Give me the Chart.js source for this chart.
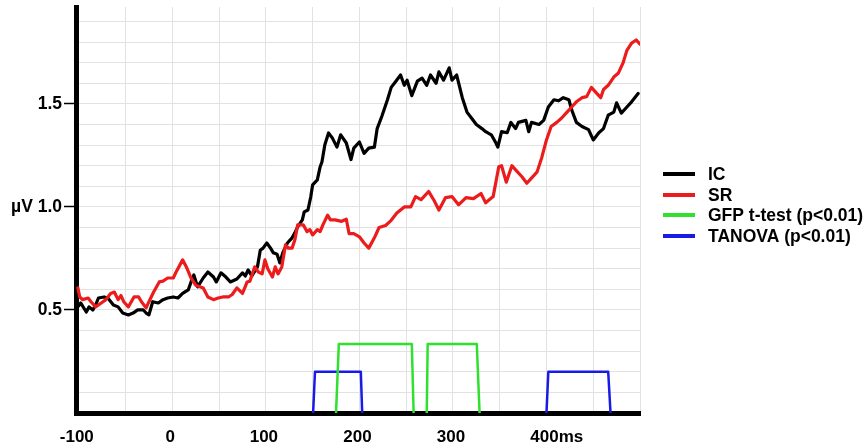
<!DOCTYPE html>
<html><head><meta charset="utf-8">
<script src="https://cdn.jsdelivr.net/npm/chart.js@4.4.1/dist/chart.umd.min.js"></script>
<style>html,body{margin:0;padding:0;background:#fff;}canvas{display:block;}</style>
</head><body>
<canvas id="c" width="867" height="448"></canvas>
<script>
// ---- data ----
const icTime = [-101,-98,-92,-89,-85,-82,-79,-73,-69,-63,
  -58,-53,-47,-42,-37,-31,-28,-25,-21,-15,
  -10,-5,1,6,11,17,20,23,27,33,
  38,44,47,52,56,62,69,75,78,81,
  85,91,94,97,101,105,108,112,115,118,
  123,128,131,134,139,141,145,148,150,155,
  158,160,163,167,171,176,180,186,191,194,
  200,205,210,216,219,224,230,234,239,244,
  248,251,256,262,267,272,276,282,285,290,
  296,299,304,310,315,320,325,331,335,341,
  346,348,352,358,362,367,370,378,381,384,
  392,397,402,408,413,418,424,427,432,438,
  445,450,456,461,466,472,475,480,486,491,
  498];
const icValue = [0.515,0.534,0.49,0.515,0.50,0.524,0.558,0.563,0.558,0.524,
  0.515,0.485,0.476,0.485,0.50,0.50,0.485,0.476,0.54,0.534,
  0.55,0.558,0.563,0.558,0.58,0.597,0.636,0.67,0.612,0.655,
  0.684,0.66,0.636,0.68,0.665,0.636,0.65,0.68,0.665,0.694,
  0.665,0.709,0.79,0.80,0.825,0.80,0.777,0.77,0.728,0.777,
  0.825,0.85,0.874,0.903,0.937,0.976,0.985,1.049,1.107,1.131,
  1.194,1.219,1.30,1.359,1.335,1.29,1.35,1.31,1.23,1.285,
  1.315,1.26,1.285,1.29,1.38,1.44,1.52,1.58,1.61,1.64,
  1.59,1.615,1.54,1.61,1.625,1.59,1.64,1.60,1.655,1.615,
  1.675,1.615,1.64,1.53,1.46,1.43,1.40,1.38,1.365,1.35,
  1.31,1.29,1.365,1.36,1.41,1.38,1.41,1.42,1.365,1.41,
  1.40,1.42,1.485,1.52,1.515,1.53,1.52,1.47,1.41,1.39,
  1.375,1.325,1.36,1.38,1.445,1.46,1.505,1.455,1.485,1.51,
  1.55];

const srTime = [-101,-99,-96,-90,-87,-82,-76,-71,-66,-62,
  -58,-55,-52,-47,-41,-36,-33,-28,-25,-20,
  -14,-10,-5,1,4,7,11,15,20,25,
  33,38,44,49,54,60,64,69,75,80,
  83,88,92,96,99,102,107,110,113,117,
  121,124,128,131,134,140,144,147,150,155,
  158,161,166,169,174,181,186,189,194,200,
  205,210,216,221,228,234,240,248,255,260,
  266,274,280,285,292,299,306,314,322,330,
  335,343,349,352,357,363,368,374,379,384,
  390,395,400,405,411,416,422,427,432,438,
  443,448,454,458,461,466,472,477,482,486,
  491,496,500];
const srValue = [0.607,0.563,0.55,0.558,0.54,0.515,0.534,0.55,0.58,0.587,
  0.55,0.57,0.54,0.515,0.563,0.563,0.54,0.51,0.54,0.587,
  0.636,0.64,0.655,0.655,0.684,0.709,0.743,0.709,0.655,0.62,
  0.607,0.563,0.55,0.558,0.563,0.563,0.575,0.607,0.58,0.636,
  0.64,0.709,0.684,0.675,0.743,0.70,0.66,0.709,0.675,0.709,
  0.816,0.80,0.80,0.84,0.913,0.913,0.88,0.89,0.864,0.89,
  0.88,0.913,0.96,0.937,0.937,0.93,0.94,0.87,0.87,0.855,
  0.825,0.80,0.85,0.90,0.91,0.935,0.97,1.0,1.0,1.05,
  1.035,1.075,1.03,0.985,1.045,1.05,1.01,1.045,1.04,1.065,
  1.02,1.05,1.195,1.2,1.12,1.2,1.175,1.145,1.115,1.14,
  1.17,1.24,1.325,1.39,1.41,1.43,1.46,1.485,1.51,1.53,
  1.535,1.58,1.55,1.53,1.57,1.59,1.63,1.65,1.70,1.76,
  1.795,1.81,1.79];

// significance windows (null separates windows)
const gfpTime  = [175,178,256,258,null,272,273,325.5,328.5];
const gfpValue = [0,0.335,0.335,0,null,0,0.335,0.335,0];
const tanovaTime  = [150.5,152.5,201.5,203,null,400,402,466,468.5];
const tanovaValue = [0,0.2,0.2,0,null,0,0.2,0.2,0];

const seriesNames = ['IC','SR','GFP t-test (p<0.01)','TANOVA (p<0.01)'];
const seriesColors = ['#000000','#ec1c1c','#2fe02f','#1a1ae6'];

const xGridValues = [-100,-50,0,50,100,150,200,250,300,350,400,450,500];
const xLabelValues = [-100,0,100,200,300,400];
const xLabelText = ['-100','0','100','200','300','400'];
const xUnit = 'ms';
const yGridValues = [0,0.1,0.2,0.3,0.4,0.5,0.6,0.7,0.8,0.9,1.0,1.1,1.2,1.3,1.4,1.5,1.6,1.7,1.8,1.9];
const yLabelValues = [0.5,1.0,1.5];
const yLabelText = ['0.5','\u00b5V 1.0','1.5'];

// ---- build ----
const FONT = '"Liberation Sans", Arial, Helvetica, sans-serif';
function pts(t, v){ return t.map((x,i)=>({x: x, y: v[i]})); }

const legendPlugin = {
  id: 'customLegend',
  afterDraw(chart){
    const ctx = chart.ctx;
    ctx.save();
    // unit after last x label
    const xs = chart.scales.x;
    const items = xs.getLabelItems ? xs.getLabelItems() : xs._labelItems;
    if (items) {
      const it = items.find(o => o.label === xLabelText[xLabelText.length-1]);
      if (it) {
        ctx.font = 'bold 17px ' + FONT;
        ctx.fillStyle = '#000';
        const w = ctx.measureText(it.label).width;
        ctx.textAlign = 'left';
        ctx.textBaseline = it.options.textBaseline;
        ctx.fillText(xUnit, it.options.translation[0] + w/2, it.options.translation[1] + it.textOffset);
      }
    }
    // legend
    const rows = [174,195,215,236];
    ctx.font = 'bold 17.5px ' + FONT;
    ctx.textAlign = 'left';
    ctx.textBaseline = 'middle';
    seriesNames.forEach((n,i)=>{
      ctx.strokeStyle = seriesColors[i];
      ctx.lineWidth = 4;
      ctx.beginPath(); ctx.moveTo(663, rows[i]); ctx.lineTo(695, rows[i]); ctx.stroke();
      ctx.fillStyle = '#000';
      ctx.fillText(n, 708, rows[i]+1);
    });
    ctx.restore();
  }
};

new Chart(document.getElementById('c'), {
  type: 'line',
  data: {
    datasets: [
      {label: seriesNames[2], data: pts(gfpTime, gfpValue), borderColor: seriesColors[2], borderWidth: 2.5, spanGaps: false},
      {label: seriesNames[3], data: pts(tanovaTime, tanovaValue), borderColor: seriesColors[3], borderWidth: 2.5, spanGaps: false},
      {label: seriesNames[1], data: pts(srTime, srValue), borderColor: seriesColors[1], borderWidth: 3.2},
      {label: seriesNames[0], data: pts(icTime, icValue), borderColor: seriesColors[0], borderWidth: 3.2}
    ]
  },
  options: {
    responsive: false,
    animation: false,
    devicePixelRatio: 1,
    layout: {padding: {left: 0, top: 7, right: 227, bottom: 0}},
    plugins: {legend: {display: false}, tooltip: {enabled: false}},
    elements: {point: {radius: 0}, line: {tension: 0, borderJoinStyle: 'round', borderCapStyle: 'round'}},
    scales: {
      x: {
        type: 'linear', min: -103, max: 500,
        afterBuildTicks(s){ s.ticks = xGridValues.map(v => ({value: v})); },
        afterFit(s){ s.height = 35; s.paddingLeft = 0; s.paddingRight = 0; },
        grid: {color: '#e2e2e2', lineWidth: 1, drawTicks: false},
        border: {display: true, color: '#000', width: 5},
        ticks: {
          autoSkip: false, maxRotation: 0, minRotation: 0, padding: 14, labelOffset: -2,
          color: '#000', font: {family: FONT, size: 17, weight: 'bold'},
          callback(v){ const i = xLabelValues.indexOf(v); return i >= 0 ? xLabelText[i] : ''; }
        }
      },
      y: {
        type: 'linear', min: 0, max: 1.97,
        afterBuildTicks(s){ s.ticks = yGridValues.map(v => ({value: v})); },
        afterFit(s){ s.width = 76; s.paddingTop = 0; s.paddingBottom = 0; },
        grid: {
          color: '#e2e2e2', lineWidth: 1, tickLength: 12, tickWidth: 1.5,
          tickColor(ctx){ return (ctx.tick && yLabelValues.indexOf(ctx.tick.value) >= 0) ? '#000' : 'rgba(0,0,0,0)'; }
        },
        border: {display: true, color: '#000', width: 5},
        ticks: {
          autoSkip: false, padding: 2,
          color: '#000', font: {family: FONT, size: 17.5, weight: 'bold'},
          callback(v){ const i = yLabelValues.indexOf(v); return i >= 0 ? yLabelText[i] : ''; }
        }
      }
    }
  },
  plugins: [legendPlugin]
});
</script>
</body></html>
